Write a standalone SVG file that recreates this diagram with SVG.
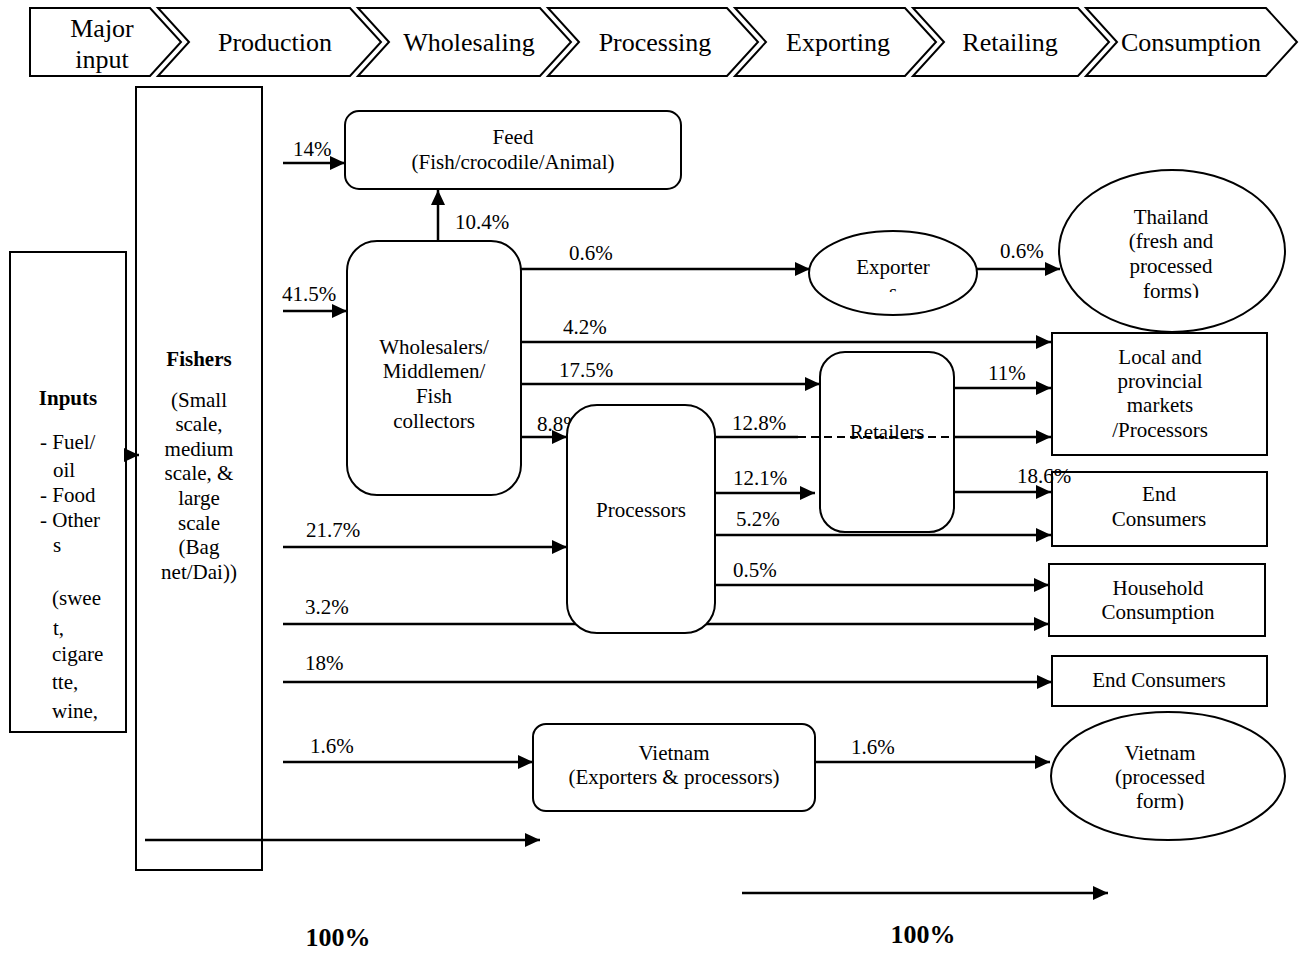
<svg xmlns="http://www.w3.org/2000/svg" width="1299" height="961" viewBox="0 0 1299 961">
<style>
text{font-family:"Liberation Serif","Times New Roman",serif;fill:#000}
.h{font-size:26px;text-anchor:middle}
.t{font-size:21px;text-anchor:middle}
.l{font-size:21px}
.b{font-weight:bold}
.tot{font-size:26px;font-weight:bold;text-anchor:middle}
.shape{fill:#fff;stroke:#000;stroke-width:2}
.open{fill:none;stroke:#000;stroke-width:2}
.c{stroke:#000;stroke-width:2.5;fill:none}
.d{stroke:#000;stroke-width:2;fill:none;stroke-dasharray:8,5}
</style>
<defs>
<marker id="ah" markerUnits="userSpaceOnUse" markerWidth="16" markerHeight="14" refX="15" refY="7" orient="auto">
<path d="M0,0 L15,7 L0,14 z" fill="#000"/>
</marker>
<clipPath id="clipExp"><rect x="800" y="220" width="190" height="72"/></clipPath>
<clipPath id="clipTh"><rect x="1050" y="160" width="250" height="138"/></clipPath>
<clipPath id="clipVn"><rect x="1040" y="700" width="260" height="110"/></clipPath>
</defs>
<rect width="1299" height="961" fill="#fff"/>

<g id="banner">
<g id="stage-major-input">
<path class="shape" d="M30,8 L150,8 L181,42 L150,76 L30,76 Z"/>
<text class="h" x="102" y="37">Major</text>
<text class="h" x="102" y="68">input</text>
</g>
<g id="stage-production">
<path class="shape" d="M158,8 L350,8 L381,42 L350,76 L158,76 L189,42 Z"/>
<text class="h" x="275" y="51">Production</text>
</g>
<g id="stage-wholesaling">
<path class="shape" d="M358,8 L540,8 L571,42 L540,76 L358,76 L389,42 Z"/>
<text class="h" x="469" y="51">Wholesaling</text>
</g>
<g id="stage-processing">
<path class="shape" d="M548,8 L727,8 L758,42 L727,76 L548,76 L579,42 Z"/>
<text class="h" x="655" y="51">Processing</text>
</g>
<g id="stage-exporting">
<path class="shape" d="M735,8 L905,8 L936,42 L905,76 L735,76 L766,42 Z"/>
<text class="h" x="838" y="51">Exporting</text>
</g>
<g id="stage-retailing">
<path class="shape" d="M913,8 L1078,8 L1109,42 L1078,76 L913,76 L944,42 Z"/>
<text class="h" x="1010" y="51">Retailing</text>
</g>
<g id="stage-consumption">
<path class="shape" d="M1086,8 L1266,8 L1297,42 L1266,76 L1086,76 L1117,42 Z"/>
<text class="h" x="1191" y="51">Consumption</text>
</g>
</g>

<g id="connectors">
<line class="c" x1="126" y1="455" x2="139" y2="455" marker-end="url(#ah)"/>
<line class="c" x1="283" y1="163" x2="345" y2="163" marker-end="url(#ah)"/>
<text class="l" x="293" y="156">14%</text>
<line class="c" x1="438" y1="241" x2="438" y2="190" marker-end="url(#ah)"/>
<text class="l" x="455" y="229">10.4%</text>
<line class="c" x1="283" y1="311" x2="347" y2="311" marker-end="url(#ah)"/>
<text class="l" x="282" y="301">41.5%</text>
<line class="c" x1="521" y1="269" x2="810" y2="269" marker-end="url(#ah)"/>
<text class="l" x="569" y="260">0.6%</text>
<line class="c" x1="976" y1="269" x2="1060" y2="269" marker-end="url(#ah)"/>
<text class="l" x="1000" y="258">0.6%</text>
<line class="c" x1="521" y1="342" x2="1051" y2="342" marker-end="url(#ah)"/>
<text class="l" x="563" y="334">4.2%</text>
<line class="c" x1="521" y1="384" x2="820" y2="384" marker-end="url(#ah)"/>
<text class="l" x="559" y="377">17.5%</text>
<line class="c" x1="521" y1="437" x2="567" y2="437" marker-end="url(#ah)"/>
<text class="l" x="537" y="431">8.8%</text>
<line class="c" x1="715" y1="437" x2="798" y2="437"/>
<line class="d" x1="798" y1="437" x2="954" y2="437"/>
<line class="c" x1="954" y1="437" x2="1051" y2="437" marker-end="url(#ah)"/>
<text class="l" x="732" y="430">12.8%</text>
<line class="c" x1="954" y1="388" x2="1051" y2="388" marker-end="url(#ah)"/>
<text class="l" x="988" y="380">11%</text>
<line class="c" x1="715" y1="493" x2="815" y2="493" marker-end="url(#ah)"/>
<text class="l" x="733" y="485">12.1%</text>
<line class="c" x1="954" y1="492" x2="1051" y2="492" marker-end="url(#ah)"/>
<text class="l" x="1017" y="483">18.6%</text>
<line class="c" x1="715" y1="535" x2="1051" y2="535" marker-end="url(#ah)"/>
<text class="l" x="736" y="526">5.2%</text>
<line class="c" x1="283" y1="547" x2="567" y2="547" marker-end="url(#ah)"/>
<text class="l" x="306" y="537">21.7%</text>
<line class="c" x1="715" y1="585" x2="1049" y2="585" marker-end="url(#ah)"/>
<text class="l" x="733" y="577">0.5%</text>
<line class="c" x1="283" y1="624" x2="1049" y2="624" marker-end="url(#ah)"/>
<text class="l" x="305" y="614">3.2%</text>
<line class="c" x1="283" y1="682" x2="1052" y2="682" marker-end="url(#ah)"/>
<text class="l" x="305" y="670">18%</text>
<line class="c" x1="283" y1="762" x2="533" y2="762" marker-end="url(#ah)"/>
<text class="l" x="310" y="753">1.6%</text>
<line class="c" x1="815" y1="762" x2="1050" y2="762" marker-end="url(#ah)"/>
<text class="l" x="851" y="754">1.6%</text>
<line class="c" x1="145" y1="840" x2="540" y2="840" marker-end="url(#ah)"/>
<line class="c" x1="742" y1="893" x2="1108" y2="893" marker-end="url(#ah)"/>
</g>

<g id="inputs">
<rect class="open" x="10" y="252" width="116" height="480"/>
<text class="l b" x="68" y="405" text-anchor="middle">Inputs</text>
<text class="l" x="40" y="449">- Fuel/</text>
<text class="l" x="53" y="477">oil</text>
<text class="l" x="40" y="502">- Food</text>
<text class="l" x="40" y="527">- Other</text>
<text class="l" x="53" y="552">s</text>
<text class="l" x="52" y="605">(swee</text>
<text class="l" x="53" y="635">t,</text>
<text class="l" x="52" y="661">cigare</text>
<text class="l" x="52" y="689">tte,</text>
<text class="l" x="52" y="718">wine,</text>
</g>

<g id="fishers">
<rect class="open" x="136" y="87" width="126" height="783"/>
<text class="t b" x="199" y="366">Fishers</text>
<text class="t" x="199" y="407">(Small</text>
<text class="t" x="199" y="431">scale,</text>
<text class="t" x="199" y="456">medium</text>
<text class="t" x="199" y="480">scale, &amp;</text>
<text class="t" x="199" y="505">large</text>
<text class="t" x="199" y="530">scale</text>
<text class="t" x="199" y="554">(Bag</text>
<text class="t" x="199" y="579">net/Dai))</text>
</g>

<g id="feed">
<rect class="open" x="345" y="111" width="336" height="78" rx="14"/>
<text class="t" x="513" y="144">Feed</text>
<text class="t" x="513" y="169">(Fish/crocodile/Animal)</text>
</g>

<g id="wholesalers">
<rect class="open" x="347" y="241" width="174" height="254" rx="30"/>
<text class="t" x="434" y="354">Wholesalers/</text>
<text class="t" x="434" y="378">Middlemen/</text>
<text class="t" x="434" y="403">Fish</text>
<text class="t" x="434" y="428">collectors</text>
</g>

<g id="exporters">
<ellipse class="open" cx="893" cy="273" rx="84" ry="42"/>
<text class="t" x="893" y="274">Exporter</text>
<text class="t" x="893" y="299" clip-path="url(#clipExp)">s</text>
</g>

<g id="thailand">
<ellipse class="open" cx="1172" cy="251" rx="113" ry="81"/>
<g clip-path="url(#clipTh)">
<text class="t" x="1171" y="224">Thailand</text>
<text class="t" x="1171" y="248">(fresh and</text>
<text class="t" x="1171" y="273">processed</text>
<text class="t" x="1171" y="298">forms)</text>
</g>
</g>

<g id="local-markets">
<rect class="open" x="1052" y="333" width="215" height="122"/>
<text class="t" x="1160" y="364">Local and</text>
<text class="t" x="1160" y="388">provincial</text>
<text class="t" x="1160" y="412">markets</text>
<text class="t" x="1160" y="437">/Processors</text>
</g>

<g id="retailers">
<rect class="open" x="820" y="352" width="134" height="180" rx="25"/>
<text class="t" x="887" y="439">Retailers</text>
</g>

<g id="processors">
<rect class="shape" x="567" y="405" width="148" height="228" rx="30"/>
<text class="t" x="641" y="517">Processors</text>
</g>

<g id="end-consumers-1">
<rect class="open" x="1052" y="472" width="215" height="74"/>
<text class="t" x="1159" y="501">End</text>
<text class="t" x="1159" y="526">Consumers</text>
</g>

<g id="household">
<rect class="open" x="1049" y="564" width="216" height="72"/>
<text class="t" x="1158" y="595">Household</text>
<text class="t" x="1158" y="619">Consumption</text>
</g>

<g id="end-consumers-2">
<rect class="open" x="1052" y="656" width="215" height="50"/>
<text class="t" x="1159" y="687">End Consumers</text>
</g>

<g id="vietnam-exporters">
<rect class="open" x="533" y="724" width="282" height="87" rx="13"/>
<text class="t" x="674" y="760">Vietnam</text>
<text class="t" x="674" y="784">(Exporters &amp; processors)</text>
</g>

<g id="vietnam-market">
<ellipse class="open" cx="1168" cy="776" rx="117" ry="64"/>
<g clip-path="url(#clipVn)">
<text class="t" x="1160" y="760">Vietnam</text>
<text class="t" x="1160" y="784">(processed</text>
<text class="t" x="1160" y="808">form)</text>
</g>
</g>

<g id="totals">
<text class="tot" x="338" y="946">100%</text>
<text class="tot" x="923" y="943">100%</text>
</g>
</svg>
